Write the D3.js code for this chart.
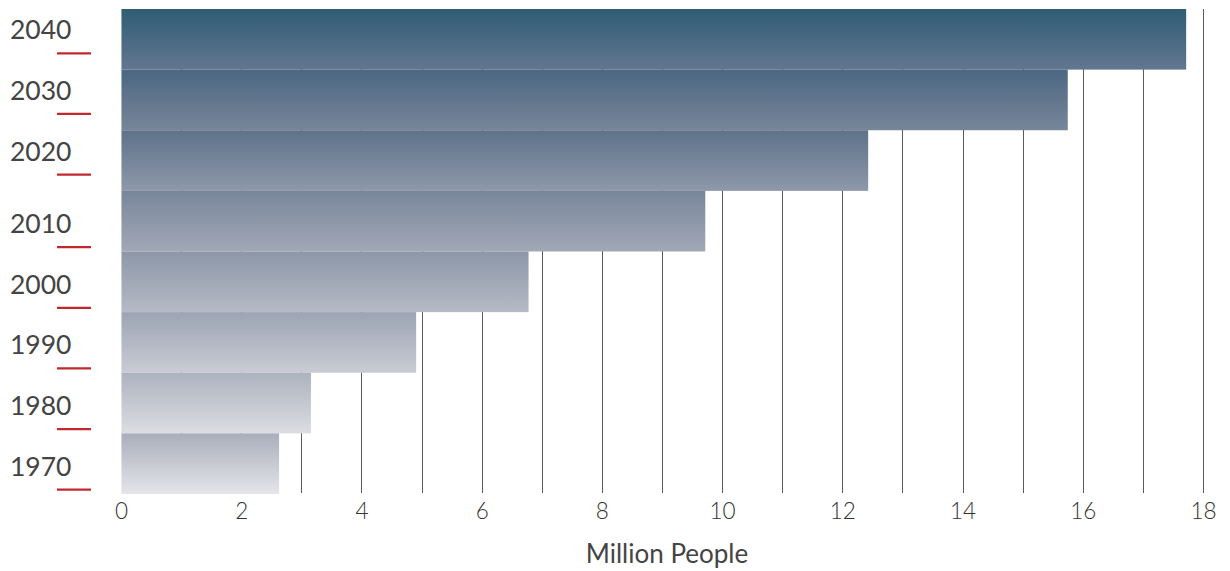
<!DOCTYPE html>
<html>
<head>
<meta charset="utf-8">
<script src="https://cdn.jsdelivr.net/npm/d3@7"></script>
<style>
  html, body { margin: 0; padding: 0; background: #fff; }
  svg { display: block; }
  text { font-family: Lato, "Open Sans", sans-serif; font-weight: 400; fill: #444; }
</style>
</head>
<body>
<svg id="chart" width="1230" height="571"></svg>
<script>
// ---- data ----
const years = ["2040", "2030", "2020", "2010", "2000", "1990", "1980", "1970"];
const millions = [17.72, 15.75, 12.43, 9.72, 6.78, 4.91, 3.16, 2.63];
const xTicks = [0, 2, 4, 6, 8, 10, 12, 14, 16, 18];
const gridValues = [1, 2, 3, 4, 5, 6, 7, 8, 9, 10, 11, 12, 13, 14, 15, 16, 17, 18];
const axisTitle = "Million People";

// ---- styles ----
const topColors = ["#305c76", "#4b6782", "#5e728a", "#78869a", "#8c97a8", "#9ca4b3", "#acb2be", "#a9aebb"];
const bottomColors = ["#62778f", "#778699", "#8e98aa", "#a1a8b6", "#b5bac5", "#c9ccd4", "#dcdde2", "#e5e5ea"];

const svg = d3.select("#chart");
const x = d3.scaleLinear().domain([0, 18]).range([121, 1203]);
const y = d3.scaleBand().domain(years).range([9, 494]).padding(0);

// gradients
const defs = svg.append("defs");
years.forEach((yr, i) => {
  const g = defs.append("linearGradient")
    .attr("id", "grad" + yr)
    .attr("x1", 0).attr("y1", 0).attr("x2", 0).attr("y2", 1);
  g.append("stop").attr("offset", "0%").attr("stop-color", topColors[i]);
  g.append("stop").attr("offset", "100%").attr("stop-color", bottomColors[i]);
});

// grid lines (behind bars)
svg.append("g").selectAll("line").data(gridValues).join("line")
  .attr("x1", d => Math.round(x(d)) + 0.5).attr("x2", d => Math.round(x(d)) + 0.5)
  .attr("y1", 9).attr("y2", 493)
  .attr("stroke", "#5a5a5a").attr("stroke-width", 1);

// bars
svg.append("g").selectAll("rect").data(years).join("rect")
  .attr("x", x(0))
  .attr("y", d => y(d))
  .attr("width", (d, i) => x(millions[i]) - x(0))
  .attr("height", y.bandwidth())
  .attr("fill", d => `url(#grad${d})`);

// light left edge
svg.append("line")
  .attr("x1", x(0) + 0.5).attr("x2", x(0) + 0.5)
  .attr("y1", 9).attr("y2", 494)
  .attr("stroke", "#ffffff").attr("stroke-opacity", 0.45);

// year labels with red markers
const labels = svg.append("g").selectAll("g").data(years).join("g")
  .attr("transform", (d, i) => {
    const c = y(d) + y.bandwidth() / 2;
    const base = +d >= 2020 ? c : c + 12;
    return `translate(0,${base})`;
  });
labels.append("text")
  .attr("x", 10).attr("y", 0)
  .attr("font-size", 26.5)
  .text(d => d);
labels.append("line")
  .attr("x1", 57).attr("x2", 91)
  .attr("y1", 14).attr("y2", 14)
  .attr("stroke", "#c1272d").attr("stroke-width", 2.2);

// x axis
const xAxis = d3.axisBottom(x).tickValues(xTicks).tickSize(0).tickPadding(0);
const ax = svg.append("g").attr("transform", "translate(0,503)").call(xAxis);
ax.select(".domain").remove();
ax.selectAll("text")
  .attr("dy", "0.71em")
  .style("font-family", "Lato, 'Open Sans', sans-serif")
  .style("font-weight", "300")
  .style("font-size", "22.5px")
  .style("fill", "#333");

svg.append("text")
  .attr("x", 667).attr("y", 563)
  .attr("text-anchor", "middle")
  .attr("font-size", 26)
  .text(axisTitle);
</script>
</body>
</html>
